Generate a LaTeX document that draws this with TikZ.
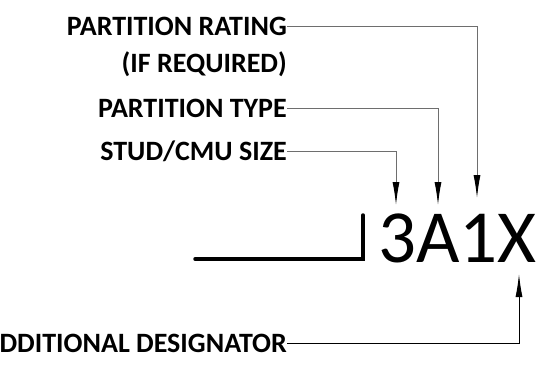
\documentclass[tikz,border=0pt]{standalone}
\usepackage{fontspec}
\setmainfont{Carlito}
\usepackage{tikz}
\usetikzlibrary{arrows.meta, positioning}
\definecolor{leadgray}{RGB}{110, 110, 110}

\begin{document}
\begin{tikzpicture}[
  x=1pt, y=-1pt,
  label/.style={
    anchor=east, inner sep=0pt,
    font=\fontsize{28}{30}\selectfont\bfseries
  },
  code/.style={
    anchor=base west, inner sep=0pt,
    font=\fontsize{75}{80}\selectfont
  },
  lead/.style={-{Latex[length=23pt, width=7pt, black]}, line width=1pt, leadgray},
  wall/.style={line width=3.5pt, black}
]
\useasboundingbox (0,0) rectangle (550,372);

\node[code] (tag) at (378,262) {3A1X};

\node[label] (rating) at (287,26)  {PARTITION RATING};
\node[label] (note)   at (287,64)  {(IF REQUIRED)};
\node[label] (ptype)  at (287,108) {PARTITION TYPE};
\node[label] (stud)   at (287,151) {STUD/CMU SIZE};
\node[label] (adds)   at (287,343) {ADDITIONAL DESIGNATOR};

% arrow tips above / below the characters
\coordinate (studtip)   at (396,205);
\coordinate (ptypetip)  at (438,205);
\coordinate (ratingtip) at (477,198);
\coordinate (addstip)   at (519,274);

\draw[lead] (stud.east)   -| (studtip);
\draw[lead] (ptype.east)  -| (ptypetip);
\draw[lead] (rating.east) -| (ratingtip);
\draw[lead, black] (adds.east) -| (addstip);

% wall line
\draw[wall, line cap=round] (195,259) -- (363,259) -- (363,215);

\end{tikzpicture}
\end{document}
